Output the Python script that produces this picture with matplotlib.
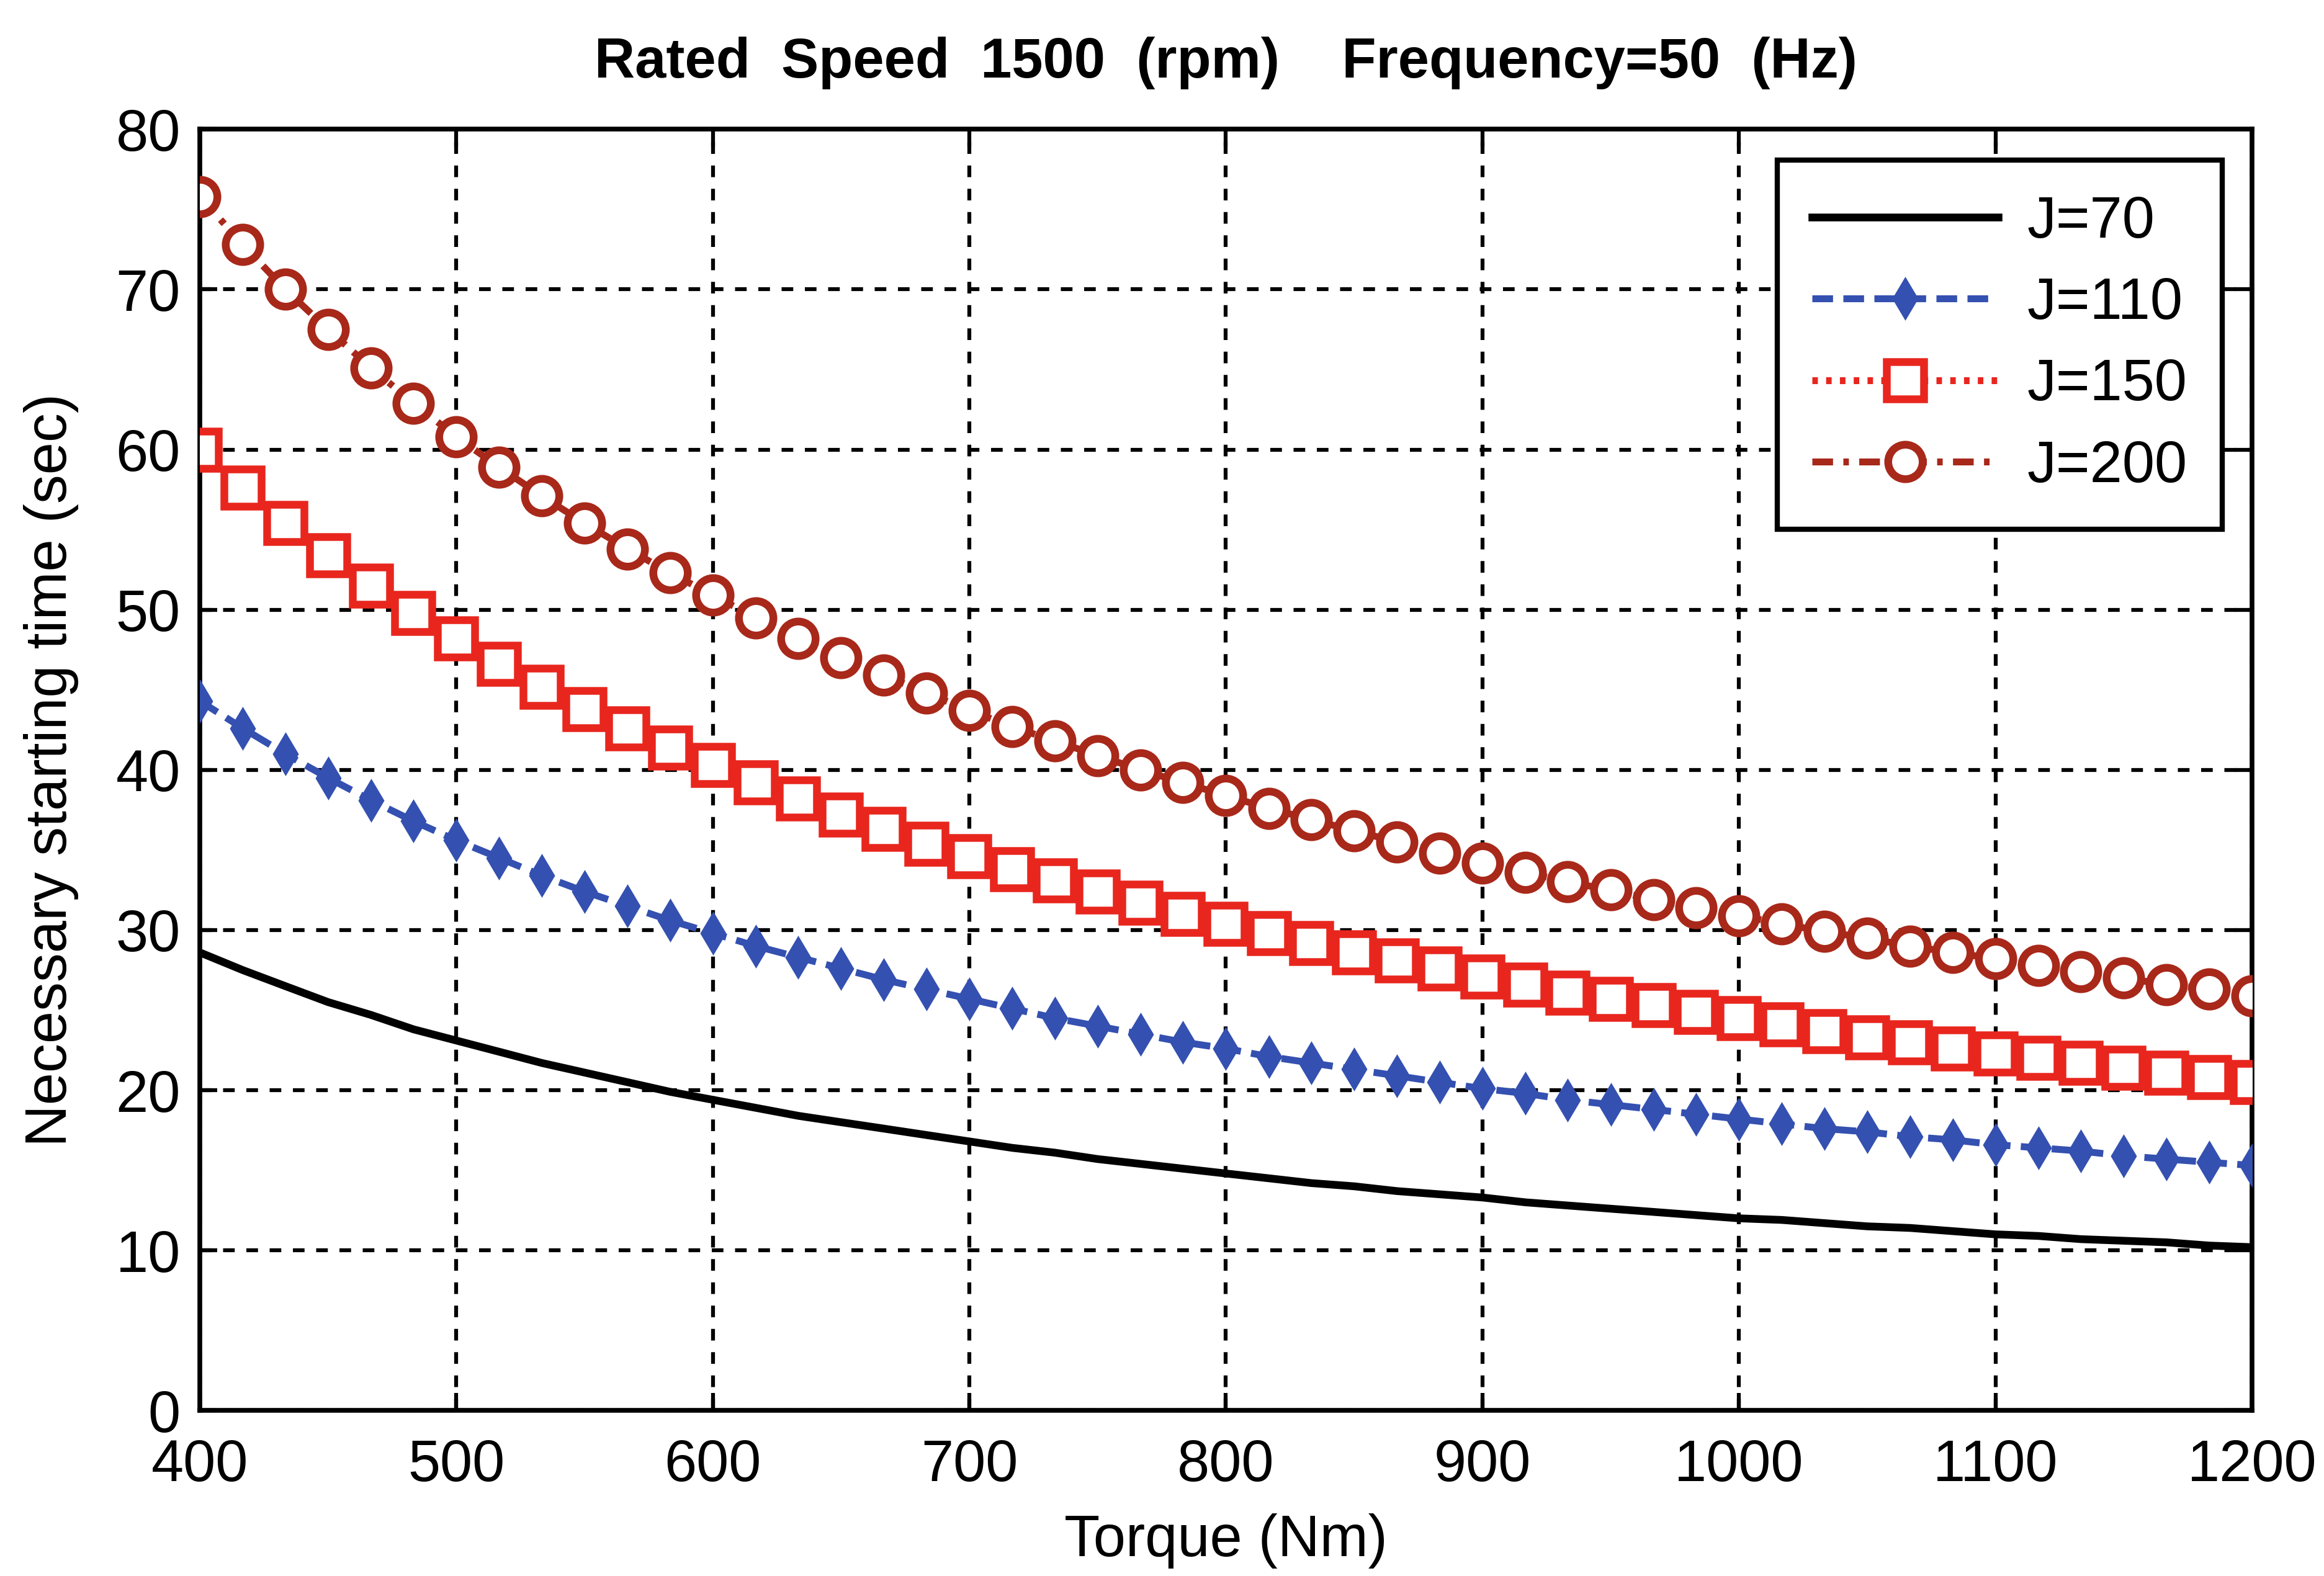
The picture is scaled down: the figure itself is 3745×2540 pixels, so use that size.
import matplotlib
matplotlib.use("Agg")
import matplotlib.pyplot as plt

plt.rcParams['font.family'] = ['Liberation Sans', 'DejaVu Sans']

torque = [400.0, 416.7, 433.3, 450.0, 466.7, 483.3, 500.0, 516.7, 533.3, 550.0,
          566.7, 583.3, 600.0, 616.7, 633.3, 650.0, 666.7, 683.3, 700.0, 716.7,
          733.3, 750.0, 766.7, 783.3, 800.0, 816.7, 833.3, 850.0, 866.7, 883.3,
          900.0, 916.7, 933.3, 950.0, 966.7, 983.3, 1000.0, 1016.7, 1033.3, 1050.0,
          1066.7, 1083.3, 1100.0, 1116.7, 1133.3, 1150.0, 1166.7, 1183.3, 1200.0]

t_j70 = [28.6, 27.5, 26.5, 25.5, 24.7, 23.8, 23.1, 22.4, 21.7, 21.1,
         20.5, 19.9, 19.4, 18.9, 18.4, 18.0, 17.6, 17.2, 16.8, 16.4,
         16.1, 15.7, 15.4, 15.1, 14.8, 14.5, 14.2, 14.0, 13.7, 13.5,
         13.3, 13.0, 12.8, 12.6, 12.4, 12.2, 12.0, 11.9, 11.7, 11.5,
         11.4, 11.2, 11.0, 10.9, 10.7, 10.6, 10.5, 10.3, 10.2]

t_j110 = [44.3, 42.6, 41.0, 39.5, 38.1, 36.8, 35.6, 34.5, 33.4, 32.4,
          31.5, 30.6, 29.8, 29.0, 28.3, 27.6, 26.9, 26.3, 25.7, 25.1,
          24.5, 24.0, 23.5, 23.0, 22.6, 22.1, 21.7, 21.3, 20.9, 20.5,
          20.1, 19.8, 19.4, 19.1, 18.8, 18.5, 18.2, 17.9, 17.6, 17.4,
          17.1, 16.9, 16.6, 16.4, 16.2, 15.9, 15.7, 15.5, 15.3]

t_j150 = [60.0, 57.6, 55.4, 53.4, 51.5, 49.8, 48.2, 46.6, 45.2, 43.8,
          42.6, 41.4, 40.3, 39.2, 38.2, 37.2, 36.3, 35.4, 34.6, 33.8,
          33.1, 32.4, 31.7, 31.0, 30.4, 29.8, 29.2, 28.6, 28.1, 27.6,
          27.1, 26.6, 26.1, 25.7, 25.3, 24.9, 24.5, 24.1, 23.7, 23.3,
          23.0, 22.6, 22.3, 22.0, 21.7, 21.4, 21.1, 20.8, 20.5]

t_j200 = [75.8, 72.8, 70.0, 67.5, 65.1, 62.9, 60.8, 58.9, 57.1, 55.4,
          53.8, 52.3, 50.9, 49.5, 48.2, 47.0, 45.9, 44.8, 43.7, 42.7,
          41.8, 40.9, 40.0, 39.2, 38.4, 37.6, 36.9, 36.2, 35.5, 34.8,
          34.2, 33.6, 33.0, 32.5, 31.9, 31.4, 30.9, 30.4, 29.9, 29.5,
          29.0, 28.6, 28.2, 27.8, 27.4, 27.0, 26.6, 26.3, 25.9]

labels = ['J=70', 'J=110', 'J=150', 'J=200']
xticks = [400, 500, 600, 700, 800, 900, 1000, 1100, 1200]
yticks = [0, 10, 20, 30, 40, 50, 60, 70, 80]

fig = plt.figure(figsize=(14.98, 10.16), dpi=250)
ax = fig.add_axes([0.086, 0.105, 0.883, 0.813])

ax.plot(torque, t_j70, color='black', lw=3.6, ls='-', label=labels[0], zorder=3)
ax.plot(torque, t_j110, color='#3450B0', lw=3.2, ls=(0, (3, 1.5)), marker='d',
        markersize=13, markerfacecolor='#3450B0', markeredgecolor='#3450B0',
        label=labels[1], zorder=3)
ax.plot(torque, t_j150, color='#E8261E', lw=3.2, ls=(0, (0.8, 1.2)), marker='s',
        markersize=17, markerfacecolor='white', markeredgecolor='#E8261E',
        markeredgewidth=3.6, label=labels[2], zorder=3)
ax.plot(torque, t_j200, color='#A8281A', lw=3.2, ls=(0, (3, 1.5, 0.8, 1.5)), marker='o',
        markersize=16, markerfacecolor='white', markeredgecolor='#A8281A',
        markeredgewidth=3.6, label=labels[3], zorder=3)

ax.set_xlim(400, 1200)
ax.set_ylim(0, 80)
ax.set_xticks(xticks)
ax.set_yticks(yticks)
ax.grid(True, color='black', ls=(0, (3, 3)), lw=1.8)
ax.tick_params(direction='in', length=8, width=1.8, labelsize=27, top=True, right=True)
ax.tick_params(axis='x', pad=13)
ax.tick_params(axis='y', pad=9)
for s in ax.spines.values():
    s.set_linewidth(2.2)
    s.set_color('black')

ax.set_xlabel('Torque (Nm)', fontsize=27, labelpad=9)
ax.set_ylabel('Necessary starting time (sec)', fontsize=27, labelpad=17)
ax.set_title('Rated  Speed  1500  (rpm)    Frequency=50  (Hz)', fontsize=26,
             fontweight='bold', pad=24)

leg = ax.legend(loc='upper right', bbox_to_anchor=(0.9856, 0.976), borderaxespad=0,
                fontsize=27, frameon=True, fancybox=False, edgecolor='black',
                handlelength=3.2, borderpad=0.6, labelspacing=0.45, handletextpad=0.5)
leg.get_frame().set_linewidth(2.4)
leg.get_frame().set_alpha(1)

fig.savefig('out.png', dpi=250, facecolor='white')
